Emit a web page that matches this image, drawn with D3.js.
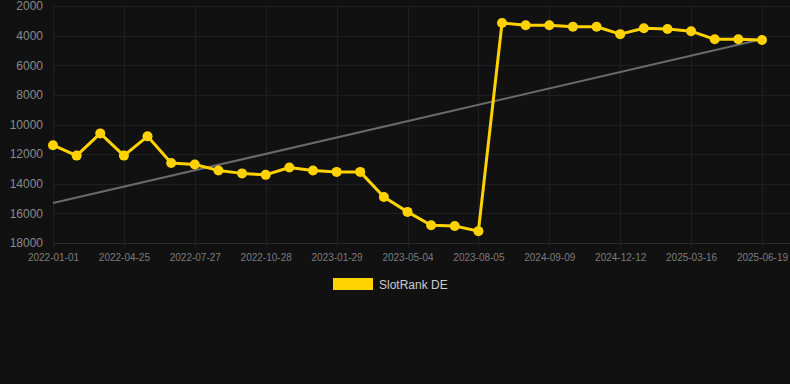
<!DOCTYPE html>
<html>
<head>
<meta charset="utf-8">
<script src="https://cdn.jsdelivr.net/npm/d3@7"></script>
<style>
  html, body { margin: 0; padding: 0; background: #111111; }
  svg { display: block; font-family: "Liberation Sans", Arial, sans-serif; }
</style>
</head>
<body>
<svg id="chart"></svg>
<script>
'use strict';

var dates = [
  '2022-01-01', '2022-02-08', '2022-03-18', '2022-04-25', '2022-05-26', '2022-06-26',
  '2022-07-27', '2022-08-27', '2022-09-27', '2022-10-28', '2022-11-28', '2022-12-29',
  '2023-01-29', '2023-03-02', '2023-04-02', '2023-05-04', '2023-06-04', '2023-07-05',
  '2023-08-05', '2024-06-04', '2024-07-22', '2024-09-09', '2024-10-10', '2024-11-10',
  '2024-12-12', '2025-01-12', '2025-02-13', '2025-03-16', '2025-04-16', '2025-05-18',
  '2025-06-19'
];
var slotRankDE = [
  11400, 12100, 10600, 12100, 10800, 12600,
  12700, 13100, 13300, 13400, 12900, 13100,
  13200, 13200, 14900, 15900, 16800, 16850,
  17200, 3150, 3300, 3300, 3400, 3400,
  3900, 3500, 3550, 3700, 4250, 4250,
  4300
];
// trend line read at first and last date
var trendValues = [15300, 4250];
var yTicks = [2000, 4000, 6000, 8000, 10000, 12000, 14000, 16000, 18000];
var seriesName = 'SlotRank DE';

var width = 790,
  height = 384,
  plotLeft = 53,
  plotRight = 762,
  plotTop = 6,
  plotBottom = 243,
  gridColor = '#1f1f1f',
  lineColor = '#ffd200';

var svg = d3.select('#chart').attr('width', width).attr('height', height);

var x = d3.scalePoint().domain(dates).range([plotLeft, plotRight]);
var y = d3.scaleLinear().domain([2000, 18000]).range([plotTop, plotBottom]);

var xTickDates = dates.filter(function (d, i) { return i % 3 === 0; });

// grid
svg.append('g').selectAll('line').data(yTicks).enter().append('line')
  .attr('x1', plotLeft).attr('x2', width)
  .attr('y1', function (d) { return Math.round(y(d)) + 0.5; })
  .attr('y2', function (d) { return Math.round(y(d)) + 0.5; })
  .attr('stroke', function (d) { return d === 18000 ? '#2a2a2a' : gridColor; })
  .attr('stroke-width', 1);

svg.append('g').selectAll('line').data(xTickDates).enter().append('line')
  .attr('x1', function (d) { return Math.round(x(d)) + 0.5; })
  .attr('x2', function (d) { return Math.round(x(d)) + 0.5; })
  .attr('y1', plotTop).attr('y2', plotBottom + 5)
  .attr('stroke', gridColor)
  .attr('stroke-width', 1);

// y axis
var yAxis = d3.axisLeft(y).tickValues(yTicks).tickSize(0).tickPadding(10)
  .tickFormat(function (d) { return String(d); });
var gy = svg.append('g').attr('transform', 'translate(' + plotLeft + ',0)').call(yAxis);
gy.select('.domain').remove();
gy.selectAll('text').attr('fill', '#8a8a8a').style('font-size', '12px')
  .style('font-family', '"Liberation Sans", Arial, sans-serif');

// x axis
var xAxis = d3.axisBottom(x).tickValues(xTickDates).tickSize(0).tickPadding(11);
var gx = svg.append('g').attr('transform', 'translate(0,' + plotBottom + ')').call(xAxis);
gx.select('.domain').remove();
gx.selectAll('text').attr('fill', '#7c7c7c').style('font-size', '10px')
  .style('font-family', '"Liberation Sans", Arial, sans-serif');

// trend
svg.append('line')
  .attr('x1', x(dates[0])).attr('y1', y(trendValues[0]))
  .attr('x2', x(dates[dates.length - 1])).attr('y2', y(trendValues[1]))
  .attr('stroke', '#6a6a6a').attr('stroke-width', 2);

// series
var line = d3.line()
  .x(function (d, i) { return x(dates[i]); })
  .y(function (d) { return y(d); });

svg.append('path').datum(slotRankDE)
  .attr('d', line)
  .attr('fill', 'none')
  .attr('stroke', lineColor)
  .attr('stroke-width', 3)
  .attr('stroke-linejoin', 'round');

svg.append('g').selectAll('circle').data(slotRankDE).enter().append('circle')
  .attr('cx', function (d, i) { return x(dates[i]); })
  .attr('cy', function (d) { return y(d); })
  .attr('r', 5)
  .attr('fill', lineColor);

// legend
var legend = svg.append('g').attr('transform', 'translate(333,278)');
legend.append('rect').attr('width', 40).attr('height', 12).attr('fill', lineColor);
legend.append('text').attr('x', 46).attr('y', 10.5)
  .attr('fill', '#cccccc').style('font-size', '12px')
  .text(seriesName);
</script>
</body>
</html>
